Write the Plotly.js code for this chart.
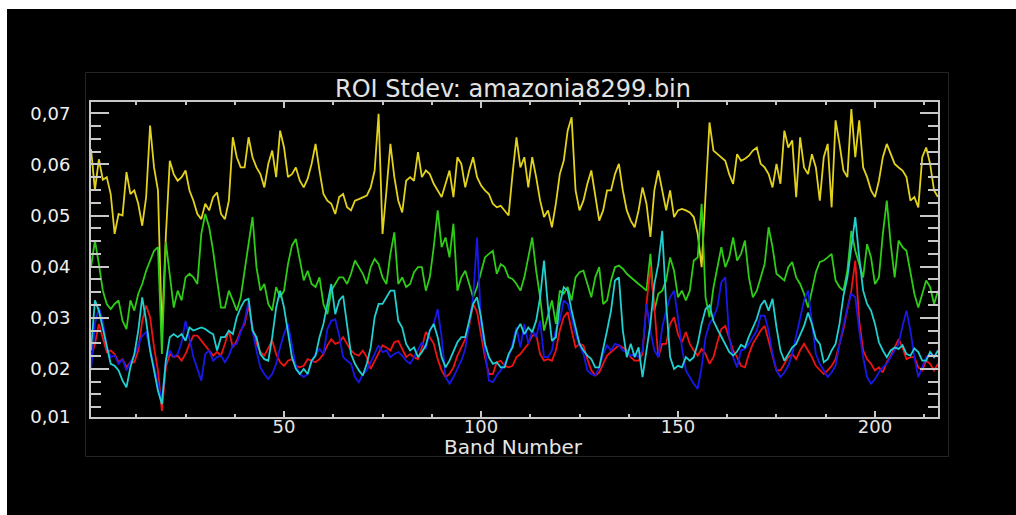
<!DOCTYPE html>
<html><head><meta charset="utf-8">
<script src="https://cdn.plot.ly/plotly-3.0.1.min.js"></script>
<style>html,body{margin:0;padding:0;background:#fff;}#chart{width:1016px;height:515px;}</style>
</head><body><div id="chart"></div>
<script>
const bandCount = 216;
const bands = Array.from({length: bandCount}, (_, i) => i + 1);

const yellowSeries = [
0.0630,0.0550,0.0610,0.0570,0.0575,0.0542,0.0464,0.0503,0.0500,0.0585,
0.0542,0.0549,0.0523,0.0480,0.0536,0.0676,0.0594,0.0549,0.0268,0.0460,
0.0607,0.0581,0.0568,0.0575,0.0588,0.0549,0.0529,0.0503,0.0493,0.0523,
0.0510,0.0536,0.0545,0.0503,0.0493,0.0529,0.0653,0.0614,0.0594,0.0594,
0.0653,0.0614,0.0594,0.0581,0.0555,0.0601,0.0627,0.0575,0.0666,0.0633,
0.0575,0.0581,0.0594,0.0568,0.0555,0.0572,0.0601,0.0640,0.0588,0.0542,
0.0529,0.0523,0.0503,0.0536,0.0542,0.0516,0.0510,0.0529,0.0532,0.0536,
0.0539,0.0555,0.0588,0.0699,0.0464,0.0549,0.0640,0.0575,0.0529,0.0506,
0.0568,0.0575,0.0568,0.0624,0.0575,0.0588,0.0581,0.0562,0.0549,0.0536,
0.0562,0.0588,0.0536,0.0614,0.0601,0.0555,0.0588,0.0614,0.0575,0.0559,
0.0549,0.0542,0.0523,0.0516,0.0519,0.0510,0.0500,0.0581,0.0653,0.0594,
0.0614,0.0555,0.0614,0.0575,0.0529,0.0497,0.0510,0.0477,0.0523,0.0581,
0.0607,0.0666,0.0692,0.0549,0.0510,0.0529,0.0562,0.0588,0.0536,0.0490,
0.0510,0.0549,0.0549,0.0581,0.0601,0.0549,0.0510,0.0490,0.0477,0.0510,
0.0555,0.0523,0.0458,0.0549,0.0588,0.0549,0.0510,0.0549,0.0497,0.0510,
0.0513,0.0510,0.0506,0.0497,0.0464,0.0399,0.0549,0.0682,0.0627,0.0620,
0.0614,0.0607,0.0581,0.0562,0.0620,0.0607,0.0611,0.0617,0.0627,0.0633,
0.0601,0.0594,0.0581,0.0555,0.0601,0.0562,0.0666,0.0633,0.0647,0.0536,
0.0653,0.0594,0.0581,0.0620,0.0594,0.0529,0.0614,0.0640,0.0516,0.0686,
0.0640,0.0588,0.0575,0.0708,0.0614,0.0686,0.0594,0.0575,0.0549,0.0536,
0.0568,0.0614,0.0640,0.0620,0.0601,0.0594,0.0588,0.0575,0.0529,0.0536,
0.0516,0.0614,0.0633,0.0601,0.0549,0.0536];

const greenSeries = [
0.0399,0.0451,0.0405,0.0353,0.0327,0.0317,0.0327,0.0334,0.0294,0.0278,
0.0334,0.0314,0.0347,0.0366,0.0392,0.0412,0.0431,0.0438,0.0229,0.0448,
0.0379,0.0320,0.0353,0.0334,0.0379,0.0386,0.0379,0.0366,0.0464,0.0503,
0.0477,0.0431,0.0373,0.0320,0.0320,0.0353,0.0334,0.0314,0.0340,0.0392,
0.0451,0.0497,0.0399,0.0353,0.0366,0.0327,0.0314,0.0360,0.0340,0.0353,
0.0405,0.0441,0.0454,0.0412,0.0373,0.0392,0.0366,0.0360,0.0379,0.0327,
0.0307,0.0353,0.0366,0.0379,0.0379,0.0366,0.0386,0.0412,0.0399,0.0386,
0.0366,0.0399,0.0415,0.0405,0.0379,0.0366,0.0425,0.0467,0.0366,0.0379,
0.0360,0.0366,0.0389,0.0399,0.0399,0.0353,0.0379,0.0438,0.0510,0.0438,
0.0457,0.0418,0.0484,0.0353,0.0379,0.0392,0.0366,0.0340,0.0360,0.0392,
0.0418,0.0425,0.0431,0.0386,0.0405,0.0399,0.0379,0.0376,0.0366,0.0353,
0.0379,0.0418,0.0457,0.0392,0.0340,0.0275,0.0307,0.0334,0.0288,0.0353,
0.0347,0.0360,0.0334,0.0379,0.0389,0.0392,0.0366,0.0340,0.0379,0.0399,
0.0327,0.0334,0.0373,0.0399,0.0402,0.0396,0.0386,0.0379,0.0373,0.0366,
0.0360,0.0353,0.0425,0.0314,0.0347,0.0353,0.0373,0.0418,0.0392,0.0340,
0.0353,0.0334,0.0353,0.0412,0.0418,0.0523,0.0340,0.0301,0.0359,0.0399,
0.0438,0.0399,0.0418,0.0457,0.0412,0.0425,0.0451,0.0379,0.0340,0.0353,
0.0379,0.0405,0.0477,0.0438,0.0386,0.0379,0.0373,0.0399,0.0409,0.0379,
0.0366,0.0347,0.0320,0.0353,0.0389,0.0409,0.0412,0.0418,0.0425,0.0373,
0.0360,0.0353,0.0392,0.0470,0.0431,0.0405,0.0379,0.0444,0.0418,0.0366,
0.0379,0.0464,0.0529,0.0444,0.0379,0.0451,0.0438,0.0431,0.0386,0.0347,
0.0320,0.0347,0.0373,0.0360,0.0327,0.0353];

const cyanSeries = [
0.0236,0.0334,0.0314,0.0281,0.0249,0.0210,0.0206,0.0197,0.0177,0.0164,
0.0203,0.0229,0.0275,0.0340,0.0294,0.0236,0.0197,0.0157,0.0131,0.0216,
0.0262,0.0268,0.0262,0.0268,0.0255,0.0281,0.0275,0.0278,0.0281,0.0278,
0.0272,0.0268,0.0236,0.0262,0.0262,0.0275,0.0268,0.0301,0.0320,0.0334,
0.0337,0.0275,0.0262,0.0229,0.0219,0.0216,0.0262,0.0320,0.0353,0.0320,
0.0268,0.0223,0.0200,0.0190,0.0200,0.0190,0.0216,0.0226,0.0262,0.0288,
0.0327,0.0366,0.0307,0.0334,0.0343,0.0288,0.0229,0.0210,0.0197,0.0187,
0.0210,0.0242,0.0301,0.0327,0.0327,0.0340,0.0353,0.0353,0.0294,0.0281,
0.0249,0.0236,0.0242,0.0223,0.0233,0.0246,0.0275,0.0288,0.0262,0.0223,
0.0203,0.0216,0.0236,0.0252,0.0262,0.0262,0.0294,0.0327,0.0340,0.0301,
0.0249,0.0223,0.0210,0.0213,0.0203,0.0203,0.0229,0.0242,0.0275,0.0288,
0.0268,0.0281,0.0272,0.0294,0.0340,0.0412,0.0320,0.0255,0.0262,0.0327,
0.0360,0.0353,0.0314,0.0281,0.0249,0.0236,0.0226,0.0219,0.0203,0.0203,
0.0236,0.0275,0.0314,0.0373,0.0379,0.0275,0.0223,0.0249,0.0223,0.0242,
0.0184,0.0236,0.0288,0.0366,0.0405,0.0470,0.0327,0.0223,0.0200,0.0206,
0.0203,0.0223,0.0216,0.0223,0.0249,0.0288,0.0317,0.0324,0.0294,0.0278,
0.0262,0.0249,0.0233,0.0226,0.0234,0.0247,0.0242,0.0263,0.0281,0.0298,
0.0324,0.0334,0.0314,0.0337,0.0281,0.0236,0.0216,0.0229,0.0242,0.0249,
0.0268,0.0284,0.0310,0.0288,0.0259,0.0249,0.0213,0.0219,0.0236,0.0249,
0.0288,0.0343,0.0379,0.0438,0.0497,0.0418,0.0353,0.0327,0.0314,0.0288,
0.0252,0.0236,0.0223,0.0236,0.0242,0.0239,0.0246,0.0229,0.0226,0.0240,
0.0233,0.0216,0.0216,0.0233,0.0223,0.0236];

const blueSeries = [
0.0197,0.0288,0.0320,0.0294,0.0242,0.0223,0.0226,0.0210,0.0219,0.0197,
0.0213,0.0226,0.0246,0.0265,0.0272,0.0236,0.0206,0.0171,0.0138,0.0216,
0.0236,0.0223,0.0229,0.0252,0.0294,0.0255,0.0223,0.0200,0.0177,0.0229,
0.0236,0.0216,0.0223,0.0226,0.0213,0.0226,0.0246,0.0249,0.0272,0.0294,
0.0334,0.0275,0.0236,0.0203,0.0190,0.0180,0.0190,0.0210,0.0242,0.0268,
0.0288,0.0249,0.0206,0.0190,0.0184,0.0190,0.0213,0.0229,0.0239,0.0229,
0.0278,0.0294,0.0297,0.0265,0.0223,0.0216,0.0210,0.0184,0.0174,0.0190,
0.0197,0.0213,0.0229,0.0246,0.0233,0.0236,0.0223,0.0229,0.0233,0.0226,
0.0216,0.0210,0.0223,0.0239,0.0252,0.0239,0.0275,0.0288,0.0317,0.0262,
0.0184,0.0171,0.0184,0.0200,0.0216,0.0239,0.0288,0.0340,0.0457,0.0288,
0.0236,0.0177,0.0174,0.0187,0.0197,0.0210,0.0223,0.0249,0.0281,0.0242,
0.0288,0.0249,0.0275,0.0262,0.0294,0.0223,0.0223,0.0236,0.0278,0.0294,
0.0334,0.0327,0.0301,0.0268,0.0246,0.0229,0.0197,0.0190,0.0187,0.0203,
0.0229,0.0246,0.0236,0.0249,0.0246,0.0236,0.0233,0.0226,0.0229,0.0223,
0.0236,0.0327,0.0275,0.0236,0.0223,0.0281,0.0314,0.0340,0.0353,0.0301,
0.0242,0.0197,0.0184,0.0171,0.0161,0.0203,0.0262,0.0288,0.0301,0.0320,
0.0369,0.0379,0.0262,0.0223,0.0203,0.0236,0.0239,0.0249,0.0262,0.0275,
0.0304,0.0304,0.0275,0.0229,0.0197,0.0184,0.0193,0.0206,0.0229,0.0262,
0.0301,0.0334,0.0353,0.0288,0.0229,0.0210,0.0197,0.0184,0.0193,0.0206,
0.0249,0.0288,0.0320,0.0347,0.0340,0.0275,0.0223,0.0184,0.0171,0.0180,
0.0193,0.0203,0.0210,0.0223,0.0236,0.0249,0.0284,0.0314,0.0275,0.0223,
0.0184,0.0203,0.0223,0.0229,0.0223,0.0236];

const redSeries = [
0.0223,0.0249,0.0288,0.0258,0.0233,0.0236,0.0229,0.0213,0.0219,0.0203,
0.0213,0.0213,0.0236,0.0294,0.0324,0.0301,0.0242,0.0197,0.0118,0.0203,
0.0229,0.0223,0.0226,0.0216,0.0229,0.0249,0.0265,0.0265,0.0255,0.0246,
0.0236,0.0226,0.0233,0.0226,0.0249,0.0275,0.0242,0.0255,0.0275,0.0288,
0.0324,0.0281,0.0249,0.0233,0.0226,0.0242,0.0255,0.0229,0.0213,0.0206,
0.0216,0.0219,0.0206,0.0203,0.0206,0.0219,0.0216,0.0213,0.0219,0.0229,
0.0246,0.0258,0.0249,0.0252,0.0262,0.0249,0.0236,0.0229,0.0226,0.0236,
0.0223,0.0200,0.0216,0.0229,0.0246,0.0242,0.0236,0.0252,0.0255,0.0239,
0.0223,0.0229,0.0223,0.0219,0.0242,0.0272,0.0262,0.0249,0.0219,0.0197,
0.0184,0.0190,0.0203,0.0226,0.0242,0.0258,0.0284,0.0327,0.0311,0.0268,
0.0223,0.0190,0.0190,0.0213,0.0216,0.0206,0.0203,0.0206,0.0223,0.0229,
0.0239,0.0249,0.0265,0.0268,0.0229,0.0216,0.0219,0.0216,0.0236,0.0275,
0.0301,0.0311,0.0275,0.0242,0.0249,0.0246,0.0219,0.0197,0.0187,0.0193,
0.0210,0.0226,0.0233,0.0239,0.0246,0.0242,0.0236,0.0223,0.0216,0.0216,
0.0229,0.0327,0.0399,0.0320,0.0223,0.0249,0.0249,0.0288,0.0301,0.0268,
0.0252,0.0272,0.0249,0.0236,0.0226,0.0239,0.0229,0.0210,0.0223,0.0252,
0.0278,0.0284,0.0262,0.0236,0.0223,0.0206,0.0203,0.0229,0.0249,0.0262,
0.0275,0.0284,0.0255,0.0223,0.0197,0.0197,0.0210,0.0223,0.0229,0.0219,
0.0236,0.0249,0.0236,0.0223,0.0206,0.0197,0.0190,0.0197,0.0206,0.0219,
0.0249,0.0278,0.0317,0.0353,0.0412,0.0294,0.0236,0.0219,0.0210,0.0197,
0.0203,0.0193,0.0213,0.0226,0.0242,0.0258,0.0242,0.0219,0.0223,0.0223,
0.0203,0.0197,0.0216,0.0210,0.0197,0.0210];

// y tick labels: the lowest label sits on the bottom edge of the frame
const yRangeBottom = 0.01059, yRangeTop = 0.0722;
const yTickValues = [yRangeBottom, 0.02, 0.03, 0.04, 0.05, 0.06, 0.07];
const yTickLabels = ['0,01', '0,02', '0,03', '0,04', '0,05', '0,06', '0,07'];
const xTickValues = [50, 100, 150, 200];
const xTickLabels = ['50', '100', '150', '200'];
const chartTitle = 'ROI Stdev: amazonia8299.bin';
const xTitle = 'Band Number';

// pixel geometry helpers (layout only)
const W = 1016, H = 515;
const PL = 91, PR = 938, PT = 102, PB = 417;
const xp = px => (px - PL) / (PR - PL);
const yp = py => (PB - py) / (PB - PT);

const axisColor = '#c8c8c8';
const lineW = 1.8;

function seriesTrace(values, color) {
  return {x: bands, y: values, type: 'scatter', mode: 'lines',
    line: {color: color, width: lineW}, hoverinfo: 'skip'};
}

const data = [
  seriesTrace(yellowSeries, '#e2d21e'),
  seriesTrace(greenSeries, '#2fcc17'),
  seriesTrace(redSeries, '#ee1414'),
  seriesTrace(blueSeries, '#1818e8'),
  seriesTrace(cyanSeries, '#22cfcf')
];

const layout = {
  width: W, height: H,
  margin: {l: PL, r: W - PR, t: PT, b: H - PB, pad: 0},
  paper_bgcolor: '#ffffff',
  plot_bgcolor: 'rgba(0,0,0,0)',
  showlegend: false,
  font: {family: 'DejaVu Sans', color: '#e6e6e6'},
  title: {text: chartTitle, font: {size: 24, color: '#e2e2e2', family: 'DejaVu Sans'},
    xref: 'container', yref: 'container', x: 513 / W, y: 1 - 89 / H,
    xanchor: 'center', yanchor: 'middle'},
  xaxis: {
    range: [1, 216], showgrid: false, zeroline: false,
    showline: true, linecolor: axisColor, linewidth: 2, mirror: 'ticks',
    ticks: 'inside', ticklen: 6, tickwidth: 2, tickcolor: axisColor,
    tickmode: 'array', tickvals: xTickValues, ticktext: xTickLabels,
    tickfont: {size: 18, color: '#e6e6e6', family: 'DejaVu Sans'},
    ticklabelstandoff: -8,
    minor: {tickmode: 'linear', tick0: 0, dtick: 12.5, ticks: 'inside', ticklen: 3, tickwidth: 2, tickcolor: axisColor},
    fixedrange: true
  },
  yaxis: {
    range: [yRangeBottom, yRangeTop],
    showgrid: false, zeroline: false,
    showline: true, linecolor: axisColor, linewidth: 2, mirror: 'ticks',
    ticks: 'inside', ticklen: 18, tickwidth: 2, tickcolor: axisColor,
    tickmode: 'array', tickvals: yTickValues, ticktext: yTickLabels,
    tickfont: {size: 18, color: '#f0f0f0', family: 'DejaVu Sans'},
    ticklabelstandoff: 15,
    minor: {tickmode: 'linear', tick0: 0, dtick: 0.0025, ticks: 'inside', ticklen: 10, tickwidth: 2, tickcolor: axisColor},
    fixedrange: true
  },
  annotations: [
    {text: xTitle, xref: 'paper', yref: 'paper', x: xp(513), y: yp(447),
      xanchor: 'center', yanchor: 'middle', showarrow: false,
      font: {size: 20, color: '#e6e6e6', family: 'DejaVu Sans'}}
  ],
  shapes: [
    {type: 'rect', xref: 'paper', yref: 'paper', x0: xp(7), x1: xp(1016), y0: yp(515), y1: yp(9),
      fillcolor: '#000000', line: {width: 0}, layer: 'below'},
    {type: 'rect', xref: 'paper', yref: 'paper', x0: xp(85.5), x1: xp(948.5), y0: yp(456.5), y1: yp(72.5),
      fillcolor: 'rgba(0,0,0,0)', line: {color: '#242424', width: 1}, layer: 'below'}
  ]
};

Plotly.newPlot('chart', data, layout, {staticPlot: true, displayModeBar: false});
</script>
</body></html>
